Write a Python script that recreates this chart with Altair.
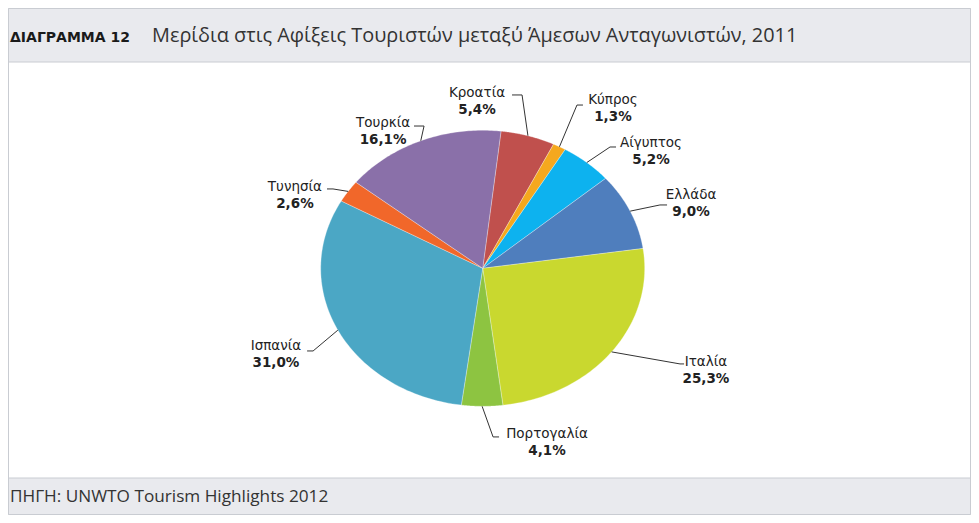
import altair as alt
import pandas as pd

# ---- data ----
countries = ["Κροατία", "Κύπρος", "Αίγυπτος", "Ελλάδα", "Ιταλία",
             "Πορτογαλία", "Ισπανία", "Τυνησία", "Τουρκία"]
shares = [5.4, 1.3, 5.2, 9.0, 25.3, 4.1, 31.0, 2.6, 16.1]
pct_labels = ["5,4%", "1,3%", "5,2%", "9,0%", "25,3%", "4,1%", "31,0%", "2,6%", "16,1%"]

title_tag = "ΔΙΑΓΡΑΜΜΑ 12"
title_text = "Μερίδια στις Αφίξεις Τουριστών μεταξύ Άμεσων Ανταγωνιστών, 2011"
source_text = "ΠΗΓΗ: UNWTO Tourism Highlights 2012"

# ---- styles ----
colors = ["#c0504d", "#f5a81e", "#0db2ef", "#4f7ebd", "#c9d82f",
          "#8dc441", "#4ba7c5", "#f1672a", "#8a70a9"]

# ---- layout (unit-circle coordinates; ellipse comes from the scales) ----
label_u = [-0.035, 0.804, 1.039, 1.286, 1.378, 0.397, -1.276, -1.159, -0.615]
label_v = [1.270, 1.219, 0.908, 0.531, -0.679, -1.201, -0.563, 0.589, 1.053]
elbow_u = [0.243, 0.582, 0.786, 1.094, 1.218, 0.064, -1.047, -0.924, -0.362]
elbow_v = [1.256, 1.183, 0.879, 0.459, -0.693, -1.222, -0.599, 0.575, 1.031]
end_u = [0.181, 0.619, 0.823, 1.138, 1.243, 0.101, -1.084, -0.961, -0.424]

START_DEG = 6.5
N = 72
W, H = 963, 507

df = pd.DataFrame({
    "name": countries, "value": shares, "pct": pct_labels, "order": list(range(len(countries))),
    "lu": label_u, "lv": label_v, "eu": elbow_u, "ev": elbow_v, "nu": end_u,
})

xs = alt.Scale(domain=[-2.9302, 3.0142], nice=False, zero=False)
ys = alt.Scale(domain=[-1.7877, 1.8862], nice=False, zero=False)
cscale = alt.Scale(domain=countries, range=colors)

base = alt.Chart(df).transform_window(
    cum="sum(value)", sort=[alt.SortField("order")], frame=[None, 0]
).transform_joinaggregate(total="sum(value)").transform_calculate(
    a0=f"{START_DEG}*PI/180 + 2*PI*(datum.cum - datum.value)/datum.total",
    a1=f"{START_DEG}*PI/180 + 2*PI*datum.cum/datum.total",
).transform_calculate(
    mid="(datum.a0 + datum.a1)/2"
)

pie = base.transform_calculate(
    idx=f"sequence(0, {N + 2})"
).transform_flatten(["idx"]).transform_calculate(
    r=f"(datum.idx == 0 || datum.idx == {N + 1}) ? 0 : 1",
    ang=f"datum.a0 + (datum.a1 - datum.a0) * clamp((datum.idx - 1)/{N - 1}, 0, 1)",
).transform_calculate(
    px="datum.r * sin(datum.ang)",
    py="datum.r * cos(datum.ang)",
).mark_line(filled=True, stroke="#ffffff", strokeWidth=0.5, strokeOpacity=0.6,
            strokeJoin="round").encode(
    x=alt.X("px:Q", scale=xs, axis=None),
    y=alt.Y("py:Q", scale=ys, axis=None),
    order=alt.Order("idx:Q"),
    detail="name:N",
    color=alt.Color("name:N", scale=cscale, legend=None),
)

leaders = base.transform_calculate(
    k="sequence(0, 3)"
).transform_flatten(["k"]).transform_calculate(
    lx="datum.k == 0 ? sin(datum.mid) : (datum.k == 1 ? datum.eu : datum.nu)",
    ly="datum.k == 0 ? cos(datum.mid) : datum.ev",
).mark_line(color="#333333", strokeWidth=1).encode(
    x=alt.X("lx:Q", scale=xs, axis=None),
    y=alt.Y("ly:Q", scale=ys, axis=None),
    order=alt.Order("k:Q"),
    detail="name:N",
)

names = alt.Chart(df).mark_text(
    font="DejaVu Sans", fontSize=13.5, color="#222222", baseline="middle", align="center"
).encode(
    x=alt.X("lu:Q", scale=xs, axis=None),
    y=alt.Y("lv:Q", scale=ys, axis=None),
    text="name:N",
)
pcts = alt.Chart(df).mark_text(
    font="DejaVu Sans", fontSize=13.5, fontWeight="bold", color="#222222",
    baseline="middle", align="center", dy=17
).encode(
    x=alt.X("lu:Q", scale=xs, axis=None),
    y=alt.Y("lv:Q", scale=ys, axis=None),
    text="pct:N",
)

one = pd.DataFrame({"a": [0]})
header_bg = alt.Chart(one).mark_rect(fill="#e9eaee", stroke="#c9ccd2", strokeWidth=1).encode(
    x=alt.value(0.5), x2=alt.value(W - 0.5), y=alt.value(0.5), y2=alt.value(54)
)
footer_bg = alt.Chart(one).mark_rect(fill="#e9eaee", stroke="#c9ccd2", strokeWidth=1).encode(
    x=alt.value(0.5), x2=alt.value(W - 0.5), y=alt.value(470), y2=alt.value(H - 0.5)
)
frame = alt.Chart(one).mark_rect(fill=None, stroke="#c9ccd2", strokeWidth=1).encode(
    x=alt.value(0.5), x2=alt.value(W - 0.5), y=alt.value(0.5), y2=alt.value(H - 0.5)
)

tag = alt.Chart(pd.DataFrame({"t": [title_tag]})).mark_text(
    font="DejaVu Sans", fontSize=14, fontWeight="bold", color="#1a1a1a",
    align="left", baseline="middle"
).encode(x=alt.value(2), y=alt.value(30), text="t:N")
ttl = alt.Chart(pd.DataFrame({"t": [title_text]})).mark_text(
    font="Open Sans", fontSize=19.9, color="#333333", align="left", baseline="middle"
).encode(x=alt.value(144), y=alt.value(28), text="t:N")
src = alt.Chart(pd.DataFrame({"t": [source_text]})).mark_text(
    font="Open Sans", fontSize=17.2, color="#333333", align="left", baseline="middle"
).encode(x=alt.value(2), y=alt.value(489), text="t:N")

chart = alt.layer(
    frame, header_bg, footer_bg, pie, leaders, names, pcts, tag, ttl, src
).properties(
    width=W, height=H, padding=0, autosize="none"
).configure_view(stroke=None)

chart.save("out.html", embed_options={"renderer": "svg", "actions": False})
